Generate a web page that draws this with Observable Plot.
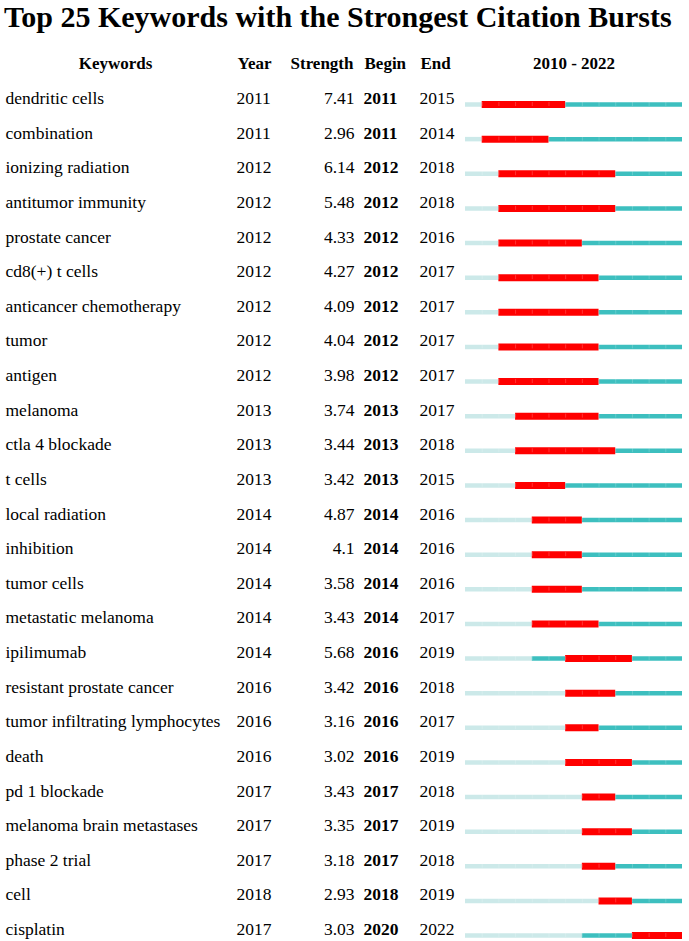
<!DOCTYPE html>
<html>
<head>
<meta charset="utf-8">
<script src="https://cdn.jsdelivr.net/npm/d3@7"></script>
<script src="https://cdn.jsdelivr.net/npm/@observablehq/plot@0.6"></script>
<style>
  html, body { margin: 0; padding: 0; background: #fff; overflow: hidden; }
  #title { height: 40px; line-height: 34px; padding-left: 4px; font-family: "Liberation Serif", "Times New Roman", serif; font-weight: bold; font-size: 30px; color: #000; white-space: nowrap; }
  svg { display: block; }
</style>
</head>
<body>
<div id="title">Top 25 Keywords with the Strongest Citation Bursts</div>
<div id="chart"></div>
<script>
const keywords = ["dendritic cells","combination","ionizing radiation","antitumor immunity","prostate cancer","cd8(+) t cells","anticancer chemotherapy","tumor","antigen","melanoma","ctla 4 blockade","t cells","local radiation","inhibition","tumor cells","metastatic melanoma","ipilimumab","resistant prostate cancer","tumor infiltrating lymphocytes","death","pd 1 blockade","melanoma brain metastases","phase 2 trial","cell","cisplatin"];
const years = [2011,2011,2012,2012,2012,2012,2012,2012,2012,2013,2013,2013,2014,2014,2014,2014,2014,2016,2016,2016,2017,2017,2017,2018,2017];
const strengths = ["7.41","2.96","6.14","5.48","4.33","4.27","4.09","4.04","3.98","3.74","3.44","3.42","4.87","4.1","3.58","3.43","5.68","3.42","3.16","3.02","3.43","3.35","3.18","2.93","3.03"];
const begins = [2011,2011,2012,2012,2012,2012,2012,2012,2012,2013,2013,2013,2014,2014,2014,2014,2016,2016,2016,2016,2017,2017,2017,2018,2020];
const ends = [2015,2014,2018,2018,2016,2017,2017,2017,2017,2017,2018,2015,2016,2016,2016,2017,2019,2018,2017,2019,2018,2019,2018,2019,2022];
const firstYear = 2010, lastYear = 2022;
const headers = ["Keywords","Year","Strength","Begin","End"];

const rows = keywords.map((k, i) => ({keyword: k, year: years[i], strength: strengths[i], begin: begins[i], end: ends[i]}));
const light = rows.map(r => ({keyword: r.keyword, x1: firstYear, x2: r.year}));
const teal = rows.flatMap(r => [
  {keyword: r.keyword, x1: r.year, x2: r.begin},
  {keyword: r.keyword, x1: r.end + 1, x2: lastYear + 1}
]).filter(d => d.x2 > d.x1);
const red = rows.map(r => ({keyword: r.keyword, x1: r.begin, x2: r.end + 1}));
const dividers = rows.flatMap(r => d3.range(firstYear + 1, lastYear + 1).map(y => ({keyword: r.keyword, x: y})));

const font = "Liberation Serif, Times New Roman, serif";
const FL = 465; // frame left
const FS = 17.5, HFS = 17;
const head = {frameAnchor: "top-left", dy: -41, lineAnchor: "middle", fontWeight: "bold", fontSize: HFS};

const chart = Plot.plot({
  width: 689,
  height: 901,
  marginLeft: FL,
  marginRight: 7,
  marginTop: 64,
  marginBottom: 6,
  style: {fontFamily: font, fontSize: FS + "px", color: "#000", background: "#fff", maxWidth: "none"},
  x: {domain: [firstYear, lastYear + 1], axis: null},
  y: {type: "point", domain: keywords, axis: null, padding: 0, round: false},
  marks: [
    Plot.ruleY(light, {y: "keyword", x1: "x1", x2: "x2", stroke: "#cce9e9", strokeWidth: 4.5}),
    Plot.ruleY(teal, {y: "keyword", x1: "x1", x2: "x2", stroke: "#3dbfbf", strokeWidth: 4.5}),
    Plot.ruleY(red, {y: "keyword", x1: "x1", x2: "x2", stroke: "#ff0000", strokeWidth: 7}),
    Plot.ruleX(dividers, {x: "x", y1: "keyword", y2: "keyword", insetTop: -2, insetBottom: -2, stroke: "#ffffff", strokeOpacity: 0.2, strokeWidth: 1}),
    // header row
    Plot.text([headers[0]], {...head, text: d => d, dx: 115 - FL, textAnchor: "middle"}),
    Plot.text([headers[1]], {...head, text: d => d, dx: 237 - FL, textAnchor: "start"}),
    Plot.text([headers[2]], {...head, text: d => d, dx: 353 - FL, textAnchor: "end"}),
    Plot.text([headers[3]], {...head, text: d => d, dx: 364 - FL, textAnchor: "start"}),
    Plot.text([headers[4]], {...head, text: d => d, dx: 420 - FL, textAnchor: "start"}),
    Plot.text([`${firstYear} - ${lastYear}`], {...head, frameAnchor: "top", text: d => d, textAnchor: "middle"}),
    // rows
    Plot.text(rows, {y: "keyword", text: "keyword", frameAnchor: "left", dx: 5 - FL, dy: -6, textAnchor: "start"}),
    Plot.text(rows, {y: "keyword", text: d => String(d.year), frameAnchor: "left", dx: 236 - FL, dy: -6, textAnchor: "start"}),
    Plot.text(rows, {y: "keyword", text: "strength", frameAnchor: "left", dx: 354 - FL, dy: -6, textAnchor: "end"}),
    Plot.text(rows, {y: "keyword", text: d => String(d.begin), frameAnchor: "left", dx: 363 - FL, dy: -6, textAnchor: "start", fontWeight: "bold"}),
    Plot.text(rows, {y: "keyword", text: d => String(d.end), frameAnchor: "left", dx: 419 - FL, dy: -6, textAnchor: "start"})
  ]
});
document.getElementById("chart").appendChild(chart);
</script>
</body>
</html>
